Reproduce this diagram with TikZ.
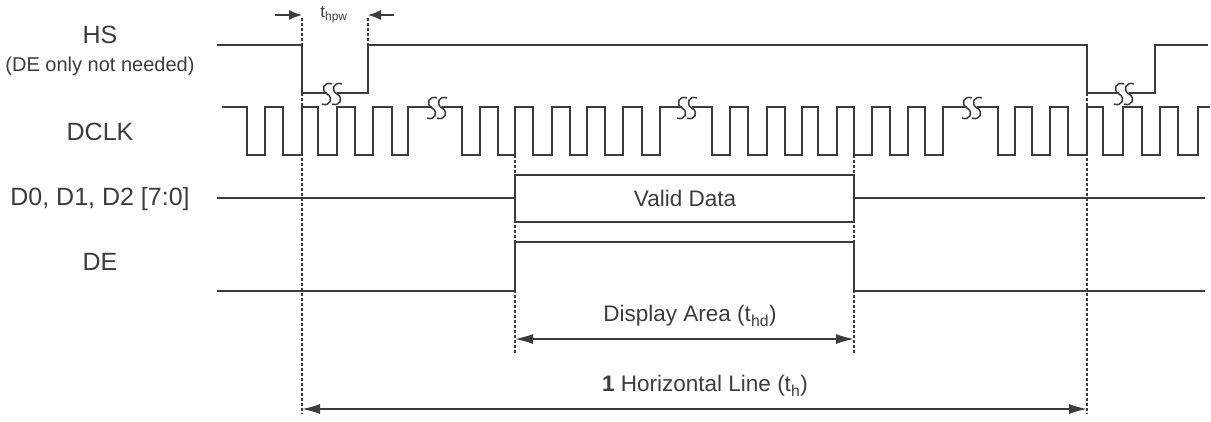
\documentclass[tikz,border=0pt]{standalone}
\usepackage{fontspec}
\setmainfont{Liberation Sans}
\usetikzlibrary{arrows.meta}
\definecolor{ink}{HTML}{3C3C3C}
\tikzset{
  wave/.style={draw=ink, line width=1.5pt},
  guide/.style={draw=ink, line width=1.2pt, dash pattern=on 3pt off 2pt},
  dim/.style={draw=ink, line width=1.5pt, {Latex[length=18pt,width=10pt]}-{Latex[length=18pt,width=10pt]}},
  pwarrow/.style={draw=ink, line width=1.5pt, -{Latex[length=13pt,width=10pt]}},
  sig/.style={text=ink, font=\fontsize{25}{28}\selectfont},
  lbl/.style={text=ink, font=\fontsize{22.5}{26}\selectfont},
}
% break mark: two S curves on a level line
\newcommand{\sgap}[2]{%
  \foreach \c in {0,10}
    \draw[wave,shift={(#1-5+\c,#2)}] (5,-9) .. controls (-3,-12) and (-7,-3) .. (0,1)
      .. controls (7,5) and (3,14) .. (-5,11);
}
\begin{document}
\begin{tikzpicture}[x=1pt,y=-1pt]
  \useasboundingbox (0,0) rectangle (1211,421);

  % Signal names
  \node[sig] (hs) at (100,35) {HS};
  \node[text=ink, font=\fontsize{20}{24}\selectfont] (hsnote) at (100,66) {(DE only not needed)};
  \node[sig] (dclk) at (100,132) {DCLK};
  \node[sig] (data) at (100,199) {D0, D1, D2 [7:0]};
  \node[sig] (de) at (100,262) {DE};

  % HS
  \draw[wave] (217,45) -- (302,45) -- (302,93) -- (327,93);
  \draw[wave] (337,93) -- (368,93) -- (368,45) -- (1087,45) -- (1087,93) -- (1119,93);
  \draw[wave] (1129,93) -- (1155,93) -- (1155,45) -- (1208,45);
  \sgap{332}{93}
  \sgap{1124}{93}

  % DCLK
  \draw[wave] (222,107) foreach \a/\b in {247/265, 283/302, 318/337, 355/373, 392/408}
    { -- (\a,107) -- (\a,155) -- (\b,155) -- (\b,107) } -- (432,107);
  \draw[wave] (442,107) foreach \a/\b in {462/480, 498/515, 533/552, 570/587, 605/623, 642/660}
    { -- (\a,107) -- (\a,155) -- (\b,155) -- (\b,107) } -- (682,107);
  \draw[wave] (692,107) foreach \a/\b in {712/730, 748/767, 785/802, 818/837, 854/872, 890/908, 925/943}
    { -- (\a,107) -- (\a,155) -- (\b,155) -- (\b,107) } -- (967,107);
  \draw[wave] (977,107) foreach \a/\b in {998/1015, 1032/1050, 1068/1087, 1103/1123, 1142/1160, 1178/1198}
    { -- (\a,107) -- (\a,155) -- (\b,155) -- (\b,107) } -- (1210,107);
  \sgap{437}{107}
  \sgap{687}{107}
  \sgap{972}{107}

  % Data bus
  \draw[wave] (217,198) -- (515,198);
  \draw[wave] (515,175) rectangle (854,222);
  \draw[wave] (854,198) -- (1205,198);
  \node[lbl] (valid) at (685,198) {Valid Data};

  % DE
  \draw[wave] (217,291) -- (515,291) -- (515,242) -- (854,242) -- (854,291) -- (1205,291);

  % Timing marks
  \coordinate (pwL) at (302,15);
  \coordinate (pwR) at (368,15);
  \coordinate (hdL) at (515,339);
  \coordinate (hdR) at (854,339);
  \coordinate (thL) at (302,409);
  \coordinate (thR) at (1087,409);

  \draw[guide] (302,18) -- (302,414);
  \draw[guide] (368,18) -- (368,45);
  \draw[guide] (515,155) -- (515,355);
  \draw[guide] (854,155) -- (854,355);
  \draw[guide] (1087,93) -- (1087,414);

  \draw[pwarrow] (275,15) -- (pwL);
  \draw[pwarrow] (394,15) -- (pwR);
  \node[text=ink, font=\fontsize{17}{20}\selectfont] (tpw) at (334,15) {t\textsubscript{hpw}};

  \draw[dim] (hdL) -- (hdR);
  \node[lbl] (hdtext) at (690,316) {Display Area (t\textsubscript{hd})};
  \draw[dim] (thL) -- (thR);
  \node[lbl] (thtext) at (705,386) {\textbf{1} Horizontal Line (t\textsubscript{h})};
\end{tikzpicture}
\end{document}
